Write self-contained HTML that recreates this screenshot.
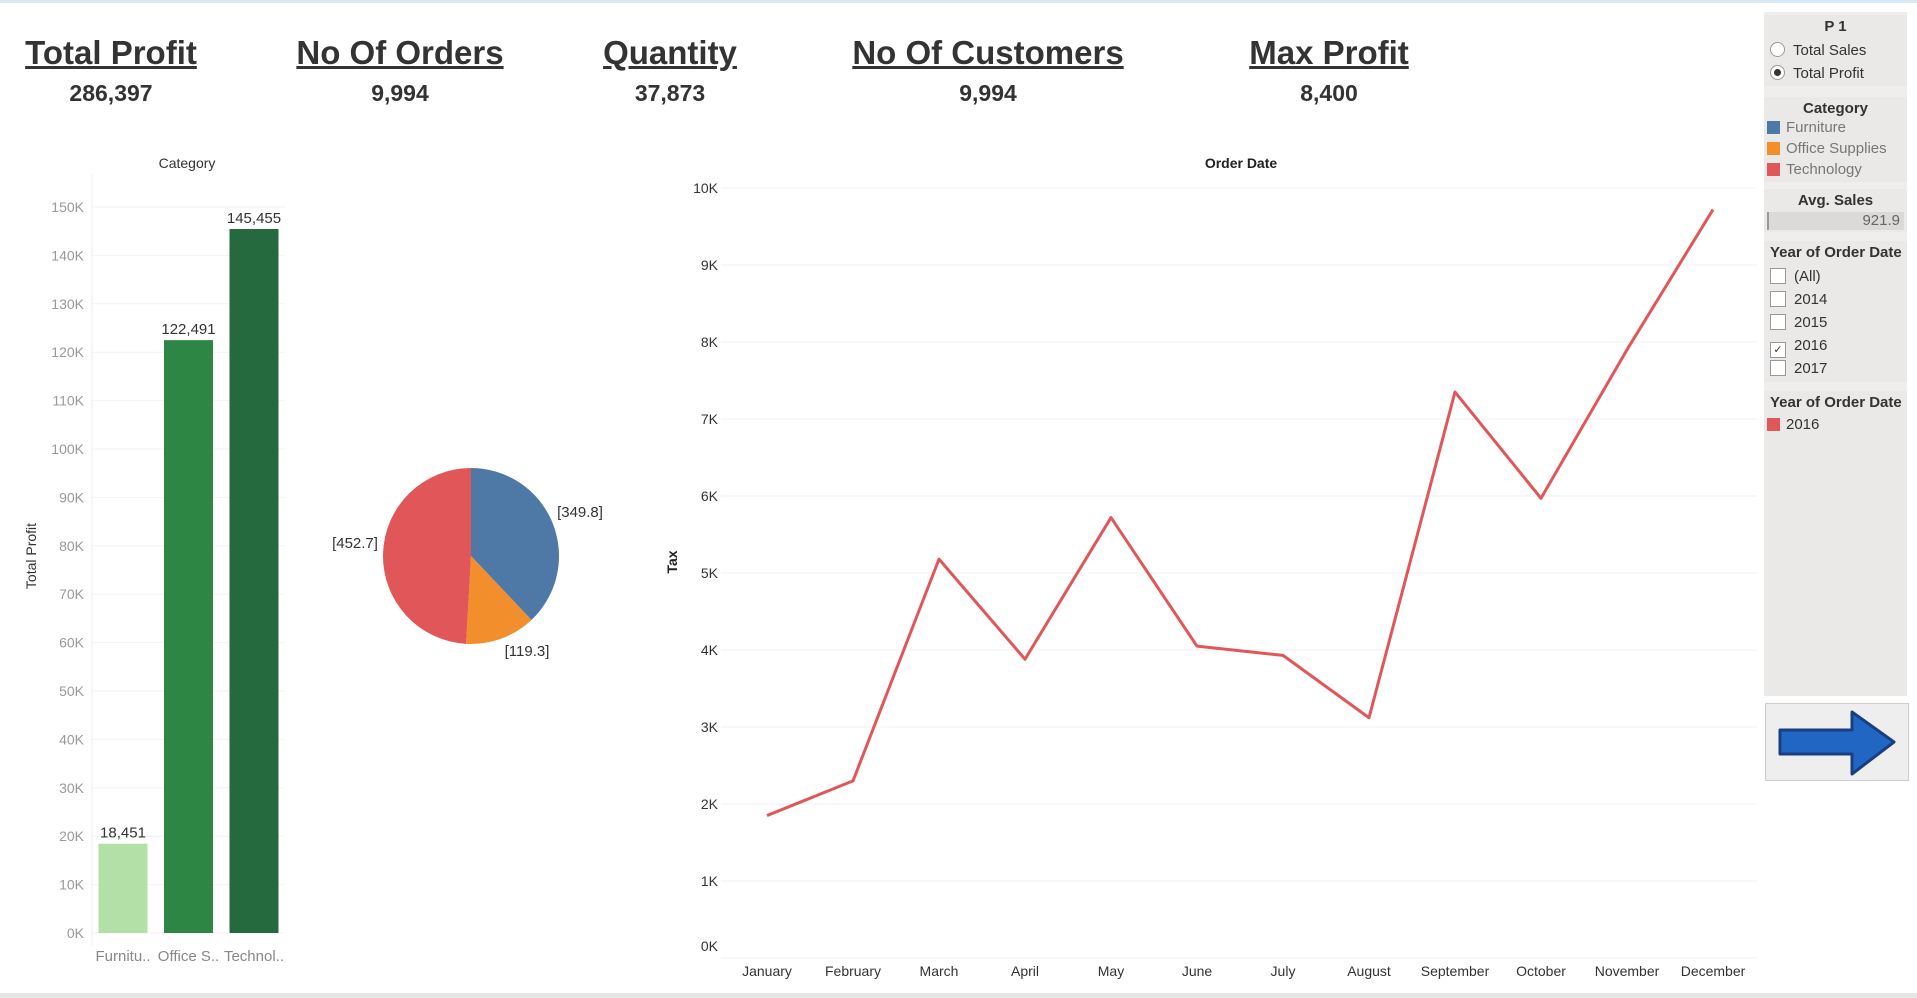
<!DOCTYPE html>
<html><head><meta charset="utf-8"><style>
body{margin:0;width:1917px;height:998px;background:#fff;font-family:"Liberation Sans",sans-serif;position:relative;overflow:hidden}
.kpi{position:absolute;top:34px;text-align:center;transform:translateX(-50%);color:#333}
.kpi .t{font-size:33px;font-weight:bold;text-decoration:underline;white-space:nowrap}
.kpi .v{font-size:23px;font-weight:bold;margin-top:8px}
.panel{position:absolute;left:1764px;top:12px;width:143px;height:684px;background:#f0eeec}
.box{position:absolute;left:1764px;width:143px;background:#ebe9e7;font-size:15px;color:#333}
.h{font-weight:bold;text-align:center;font-size:15px;margin-top:3px}
.row{height:22px;line-height:22px;padding-left:6px;white-space:nowrap}
.sw{display:inline-block;width:13px;height:13px;vertical-align:-2px;margin-right:6px}
.cb{display:inline-block;width:14px;height:14px;border:1px solid #999;background:#fff;vertical-align:-3px;margin-right:8px;font-size:11px;line-height:14px;text-align:center}
.rd{display:inline-block;width:13px;height:13px;border:1px solid #999;border-radius:50%;background:#fff;vertical-align:-2px;margin-right:8px;position:relative}
</style></head><body>
<div style="position:absolute;left:0;top:0;width:1917px;height:3px;background:#d8e8f5"></div>
<div class="kpi" style="left:111px"><div class="t">Total Profit</div><div class="v">286,397</div></div>
<div class="kpi" style="left:400px"><div class="t">No Of Orders</div><div class="v">9,994</div></div>
<div class="kpi" style="left:670px"><div class="t">Quantity</div><div class="v">37,873</div></div>
<div class="kpi" style="left:988px"><div class="t">No Of Customers</div><div class="v">9,994</div></div>
<div class="kpi" style="left:1329px"><div class="t">Max Profit</div><div class="v">8,400</div></div>

<svg id="chart" width="1760" height="998" style="position:absolute;left:0;top:0" font-family="Liberation Sans, sans-serif"></svg>

<div class="panel"></div>
<div class="box" style="top:15px;height:71px">
<div class="h">P 1</div>
<div style="height:4px"></div>
<div class="row" style="height:23px;line-height:23px"><span class="rd"></span>Total Sales</div>
<div class="row" style="height:23px;line-height:23px"><span class="rd"><span style="position:absolute;left:3px;top:3px;width:7px;height:7px;border-radius:50%;background:#333"></span></span>Total Profit</div>
</div>
<div class="box" style="top:97px;height:85px;color:#777">
<div class="h" style="color:#333">Category</div>
<div class="row" style="height:21px;line-height:21px;padding-left:3px"><span class="sw" style="background:#4e79a7"></span>Furniture</div>
<div class="row" style="height:21px;line-height:21px;padding-left:3px"><span class="sw" style="background:#f28e2b"></span>Office Supplies</div>
<div class="row" style="height:21px;line-height:21px;padding-left:3px"><span class="sw" style="background:#e15759"></span>Technology</div>
</div>
<div class="box" style="top:189px;height:43px">
<div class="h">Avg. Sales</div>
<div style="margin:3px 3px 0;height:18px;background:#dcdad8;border-left:2px solid #999;text-align:right;padding-right:4px;color:#666;font-size:15px;line-height:18px">921.9</div>
</div>
<div class="box" style="top:241px;height:141px">
<div class="h" style="text-align:left;padding-left:6px">Year of Order Date</div>
<div style="height:4px"></div>
<div class="row" style="height:23px;line-height:23px"><span class="cb"></span>(All)</div>
<div class="row" style="height:23px;line-height:23px"><span class="cb"></span>2014</div>
<div class="row" style="height:23px;line-height:23px"><span class="cb"></span>2015</div>
<div class="row" style="height:23px;line-height:23px"><span class="cb">✓</span>2016</div>
<div class="row" style="height:23px;line-height:23px"><span class="cb"></span>2017</div>
</div>
<div class="box" style="top:391px;height:305px">
<div class="h" style="text-align:left;padding-left:6px">Year of Order Date</div>
<div class="row" style="padding-left:3px;margin-top:3px"><span class="sw" style="background:#e15759"></span>2016</div>
</div>
<div style="position:absolute;left:1765px;top:703px;width:142px;height:76px;background:#eeeeee;border:1px solid #ccc">
<svg width="142" height="76"><path d="M14 26 L86 26 L86 8 L128 38 L86 70 L86 50 L14 50 Z" fill="#2266c4" stroke="#1a3f80" stroke-width="3" stroke-linejoin="round"/></svg></div>
<div style="position:absolute;left:0;top:993px;width:1917px;height:5px;background:#e6e6e6"></div>

<script>
const barCats=["Furnitu..","Office S..","Technol.."];
const barVals=[18451,122491,145455];
const barTicks=[0,10000,20000,30000,40000,50000,60000,70000,80000,90000,100000,110000,120000,130000,140000,150000];
const pieLabels=["Furniture","Office Supplies","Technology"];
const pieVals=[349.8,119.3,452.7];
const months=["January","February","March","April","May","June","July","August","September","October","November","December"];
const taxVals=[1850,2300,5180,3880,5720,4050,3930,3120,7350,5970,7900,9720];
const taxTicks=[0,1000,2000,3000,4000,5000,6000,7000,8000,9000,10000];

const svg=document.getElementById('chart');
const NS="http://www.w3.org/2000/svg";
function mk(tag,attrs,name,text){const e=document.createElementNS(NS,tag);for(const k in attrs)e.setAttribute(k,attrs[k]);


if(text!==undefined)e.textContent=text;svg.appendChild(e);return e;}
const fmtK=v=>(v/1000)+"K";
const by=v=>933-(v/150000)*(933-207);
mk('text',{x:187,y:168,'font-size':14,fill:'#333','text-anchor':'middle'},'bar-chart-title','Category');
mk('line',{x1:92,y1:175,x2:92,y2:945,stroke:'#eee'},'bar-y-axis-line');
barTicks.forEach(t=>{mk('line',{x1:92,y1:by(t),x2:285,y2:by(t),stroke:'#f2f2f2'},'bar-gridline');
mk('text',{x:84,y:by(t)+5,'font-size':14,fill:'#999','text-anchor':'end'},'bar-y-tick',fmtK(t));});
mk('text',{x:36,y:556,'font-size':14,fill:'#333','text-anchor':'middle',transform:'rotate(-90 36 556)'},'bar-y-axis-title','Total Profit');
const barCols=['#b3e0a6','#2e8644','#246a3e'];
barVals.forEach((v,i)=>{const cx=123+i*65.5;
mk('rect',{x:cx-24.5,y:by(v),width:49,height:933-by(v),fill:barCols[i]},'bar-'+i);
mk('text',{x:cx,y:by(v)-6,'font-size':15,fill:'#333','text-anchor':'middle'},'bar-value-label',v.toLocaleString('en-US'));
mk('text',{x:cx,y:961,'font-size':15,fill:'#888','text-anchor':'middle'},'bar-x-label',barCats[i]);});
const pcx=471,pcy=556,pr=88;const tot=pieVals.reduce((a,b)=>a+b,0);const pieCols=['#4e79a7','#f28e2b','#e15759'];
let a0=-Math.PI/2;
pieVals.forEach((v,i)=>{const a1=a0+v/tot*2*Math.PI;
const x0=pcx+pr*Math.cos(a0),y0=pcy+pr*Math.sin(a0),x1=pcx+pr*Math.cos(a1),y1=pcy+pr*Math.sin(a1);
mk('path',{d:`M${pcx} ${pcy}L${x0} ${y0}A${pr} ${pr} 0 ${a1-a0>Math.PI?1:0} 1 ${x1} ${y1}Z`,fill:pieCols[i]},'pie-slice-'+i);
a0=a1;});
const offs=[[580,517],[527,656],[355,548]];
pieVals.forEach((v,i)=>{mk('text',{x:offs[i][0],y:offs[i][1],'font-size':15,fill:'#333','text-anchor':'middle'},'pie-label','['+v+']');});
const lx=i=>767+i*(1713-767)/11;const ly=v=>958-v/10000*(958-188);
mk('text',{x:1241,y:168,'font-size':14,'font-weight':'bold',fill:'#222','text-anchor':'middle'},'line-chart-title','Order Date');
taxTicks.forEach(t=>{mk('line',{x1:721,y1:ly(t),x2:1757,y2:ly(t),stroke:'#f0f0f0'},'line-gridline');
mk('text',{x:718,y:Math.min(ly(t)+5,951),'font-size':14,fill:'#333','text-anchor':'end'},'line-y-tick',fmtK(t));});
mk('text',{x:677,y:562,'font-size':14,'font-weight':'bold',fill:'#222','text-anchor':'middle',transform:'rotate(-90 677 562)'},'line-y-axis-title','Tax');
months.forEach((m,i)=>mk('text',{x:lx(i),y:976,'font-size':14,fill:'#333','text-anchor':'middle'},'line-x-tick',m));
mk('polyline',{points:taxVals.map((v,i)=>lx(i)+','+ly(v)).join(' '),fill:'none',stroke:'#e15759','stroke-width':3,'stroke-linejoin':'round'},'tax-line');
</script>
</body></html>
